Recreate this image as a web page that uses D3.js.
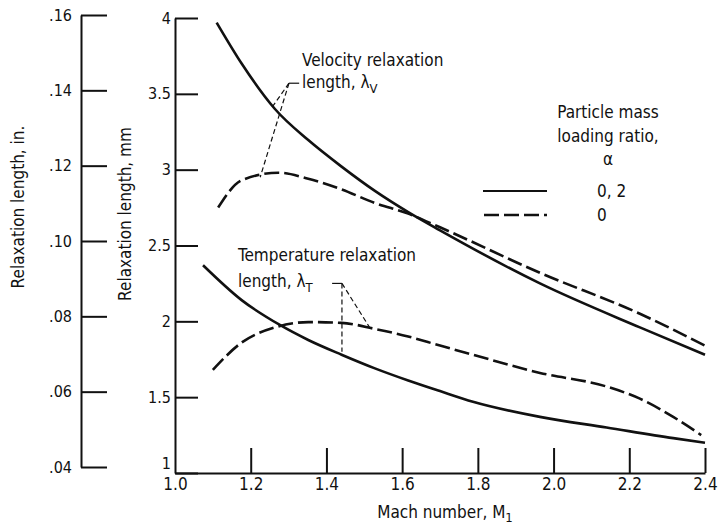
<!DOCTYPE html>
<html>
<head>
<meta charset="utf-8">
<script src="https://cdn.jsdelivr.net/npm/d3@7"></script>
<style>
  body { margin: 0; background: #fff; }
  svg text { font-family: "Liberation Sans Narrow", "DejaVu Sans Condensed", "Liberation Sans", sans-serif; fill: #111; }
  .domain, .tick line { stroke: #111; stroke-width: 2px; }
</style>
</head>
<body>
<svg width="718" height="530"></svg>
<script>
// Mach number / relaxation length (mm) readings
var velSolidM = [1.11, 1.176, 1.264, 1.352, 1.44, 1.528, 1.616, 1.70, 1.964, 2.228, 2.40];
var velSolidV = [3.97, 3.70, 3.40, 3.195, 3.02, 2.86, 2.72, 2.60, 2.25, 1.96, 1.78];
var velDashM = [1.114, 1.176, 1.273, 1.352, 1.44, 1.528, 1.616, 1.70, 1.964, 2.228, 2.40];
var velDashV = [2.75, 2.93, 2.98, 2.94, 2.87, 2.78, 2.71, 2.62, 2.32, 2.05, 1.84];
var tempSolidM = [1.074, 1.176, 1.277, 1.352, 1.44, 1.528, 1.616, 1.70, 1.787, 1.964, 2.14, 2.316, 2.40];
var tempSolidV = [2.37, 2.14, 1.976, 1.877, 1.78, 1.69, 1.61, 1.54, 1.47, 1.37, 1.30, 1.23, 1.20];
var tempDashM = [1.10, 1.176, 1.264, 1.352, 1.44, 1.528, 1.616, 1.70, 1.787, 1.964, 2.14, 2.228, 2.316, 2.39];
var tempDashV = [1.68, 1.86, 1.96, 1.995, 1.99, 1.95, 1.90, 1.84, 1.78, 1.66, 1.57, 1.49, 1.37, 1.25];

var xTicks = [1.0, 1.2, 1.4, 1.6, 1.8, 2.0, 2.2, 2.4];
var xTickLabels = ["1.0", "1.2", "1.4", "1.6", "1.8", "2.0", "2.2", "2.4"];
var mmTicks = [1, 1.5, 2, 2.5, 3, 3.5, 4];
var mmTickLabels = ["1", "1.5", "2", "2.5", "3", "3.5", "4"];
var inTicks = [0.04, 0.06, 0.08, 0.10, 0.12, 0.14, 0.16];
var inTickLabels = [".04", ".06", ".08", ".10", ".12", ".14", ".16"];

// leader lines [M, mm]
var velLeader = [[1.328, 3.57], [1.301, 3.57]];
var velLeaderEnds = [[1.256, 3.41], [1.225, 2.95]];
var tempLeader = [[1.415, 2.25], [1.441, 2.25]];
var tempLeaderEnds = [[1.441, 1.80], [1.515, 1.956]];

var svg = d3.select('svg');

var x = d3.scaleLinear().domain([1.0, 2.4]).range([175, 705]);
var y = d3.scaleLinear().domain([1, 4]).range([473, 18]);
var yIn = d3.scaleLinear().domain([0.04, 0.16]).range([467, 15]);

// inch axis
var inAxis = svg.append('g').attr('transform', 'translate(81,0)')
    .call(d3.axisLeft(yIn).tickValues(inTicks).tickSize(-26).tickSizeOuter(0).tickPadding(9)
      .tickFormat(function(d, i) { return inTickLabels[i]; }));
inAxis.selectAll('text').style('font-size', '16px');

// mm axis
var mmAxis = svg.append('g').attr('transform', 'translate(175,0)')
    .call(d3.axisLeft(y).tickValues(mmTicks).tickSize(-23).tickSizeOuter(0).tickPadding(4)
      .tickFormat(function(d, i) { return mmTickLabels[i]; }));
mmAxis.selectAll('text').style('font-size', '16px');
mmAxis.selectAll('.tick').filter(function(d) { return d === 1; }).select('text').attr('dy', '-0.3em');

// mach axis
var xAxis = svg.append('g').attr('transform', 'translate(0,473)')
    .call(d3.axisBottom(x).tickValues(xTicks).tickSize(-25).tickSizeOuter(0).tickPadding(5)
      .tickFormat(function(d, i) { return xTickLabels[i]; }));
xAxis.selectAll('text').style('font-size', '17px');
xAxis.selectAll('.tick').filter(function(d) { return d === 1.0; }).select('line').remove();

var line = d3.line()
    .x(function(d) { return x(d[0]); })
    .y(function(d) { return y(d[1]); })
    .curve(d3.curveMonotoneX);

var zip = function(a, b) { return a.map(function(v, i) { return [v, b[i]]; }); };

var series = [
  {pts: zip(velSolidM, velSolidV), dash: null},
  {pts: zip(velDashM, velDashV), dash: '15,5'},
  {pts: zip(tempSolidM, tempSolidV), dash: null},
  {pts: zip(tempDashM, tempDashV), dash: '15,5'}
];

svg.selectAll('.curve')
    .data(series)
    .enter().append('path')
    .attr('class', 'curve')
    .attr('d', function(d) { return line(d.pts); })
    .attr('fill', 'none')
    .attr('stroke', '#111')
    .attr('stroke-width', 2.6)
    .attr('stroke-dasharray', function(d) { return d.dash; });

// leaders
var leaderLines = [
  [velLeader[0], velLeader[1], 'none'],
  [velLeader[1], velLeaderEnds[0], '5,3'],
  [velLeader[1], velLeaderEnds[1], '5,3'],
  [tempLeader[0], tempLeader[1], 'none'],
  [tempLeader[1], tempLeaderEnds[0], '5,3'],
  [tempLeader[1], tempLeaderEnds[1], '5,3']
];
svg.selectAll('.leader')
    .data(leaderLines)
    .enter().append('line')
    .attr('class', 'leader')
    .attr('x1', function(d) { return x(d[0][0]); })
    .attr('y1', function(d) { return y(d[0][1]); })
    .attr('x2', function(d) { return x(d[1][0]); })
    .attr('y2', function(d) { return y(d[1][1]); })
    .attr('stroke', '#111')
    .attr('stroke-width', 1.2)
    .attr('stroke-dasharray', function(d) { return d[2]; });

// annotation text
var txt = function(tx, ty, s, anchor) {
  return svg.append('text').attr('x', tx).attr('y', ty)
      .attr('text-anchor', anchor || 'start').style('font-size', '17px').text(s);
};
txt(302, 66, 'Velocity relaxation');
var lv = txt(302, 88, 'length, \u03bb');
lv.append('tspan').attr('dy', 5).style('font-size', '13px').text('V');
txt(238, 261, 'Temperature relaxation');
var lt = txt(238, 287, 'length, \u03bb');
lt.append('tspan').attr('dy', 5).style('font-size', '13px').text('T');

// legend
txt(608, 118, 'Particle mass', 'middle');
txt(608, 142, 'loading ratio,', 'middle');
txt(608, 165, '\u03b1', 'middle');
svg.append('line').attr('x1', 483).attr('x2', 547).attr('y1', 191).attr('y2', 191)
    .attr('stroke', '#111').attr('stroke-width', 2.2);
svg.append('line').attr('x1', 484).attr('x2', 547).attr('y1', 215).attr('y2', 215)
    .attr('stroke', '#111').attr('stroke-width', 2.6).attr('stroke-dasharray', '15,5');
txt(597, 197, '0, 2');
txt(597, 221, '0');

// axis titles
svg.append('text').attr('transform', 'translate(24,207) rotate(-90)')
    .attr('text-anchor', 'middle').style('font-size', '17px').text('Relaxation length, in.');
svg.append('text').attr('transform', 'translate(131,214) rotate(-90)')
    .attr('text-anchor', 'middle').style('font-size', '17px').text('Relaxation length, mm');
var mt = svg.append('text').attr('x', 445).attr('y', 518).attr('text-anchor', 'middle')
    .style('font-size', '17px').text('Mach number, M');
mt.append('tspan').attr('dy', 4).style('font-size', '13px').text('1');
</script>
</body>
</html>
